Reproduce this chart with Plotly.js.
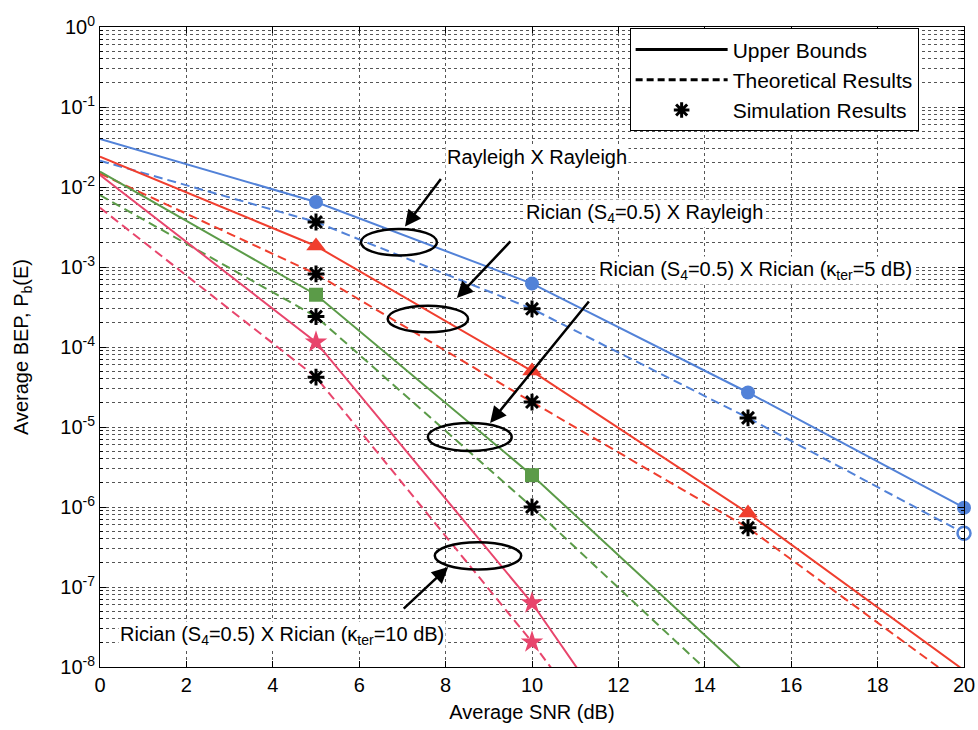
<!DOCTYPE html>
<html>
<head>
<meta charset="utf-8">
<script src="https://cdn.plot.ly/plotly-3.0.1.min.js"></script>
<style>
  html, body { margin: 0; padding: 0; background: #ffffff; }
  #chart { width: 978px; height: 730px; }
</style>
</head>
<body>
<div id="chart"></div>
<script>
// Average SNR grid (dB)
const snr = [0, 5, 10, 15, 20];

// Rayleigh X Rayleigh
const rayRayUpper  = [0.040, 6.5e-3, 6.2e-4, 2.7e-5, 9.8e-7];
const rayRayTheory = [0.0213, 3.65e-3, 3.0e-4, 1.3e-5, 4.7e-7];
const rayRaySimSnr = [5, 10, 15];
const rayRaySim    = [3.65e-3, 3.0e-4, 1.3e-5];

// Rician (S4=0.5) X Rayleigh
const ricRayUpper  = [0.024, 1.83e-3, 5.0e-5, 8.4e-7, 9.1e-9];
const ricRayTheory = [0.0147, 8.2e-4, 2.05e-5, 5.5e-7, 5.8e-9];
const ricRaySimSnr = [5, 10, 15];
const ricRaySim    = [8.2e-4, 2.05e-5, 5.5e-7];

// Rician (S4=0.5) X Rician (kappa_ter = 5 dB)
const ric5Upper  = [0.0156, 4.5e-4, 2.5e-6, 7.9e-9];
const ric5Theory = [7.9e-3, 2.4e-4, 1.0e-6, 3.0e-9];
const ric5Snr    = [0, 5, 10, 15];
const ric5SimSnr = [5, 10];
const ric5Sim    = [2.4e-4, 1.0e-6];

// Rician (S4=0.5) X Rician (kappa_ter = 10 dB)
const ric10Upper  = [0.0141, 1.15e-4, 6.3e-8, 8e-12];
const ric10Theory = [5.5e-3, 4.2e-5, 2.05e-8, 4.7e-12];
const ric10Snr    = [0, 5, 10, 15];
const ric10SimSnr = [5];
const ric10Sim    = [4.2e-5];

// axis ticks
const xTicks = [0, 2, 4, 6, 8, 10, 12, 14, 16, 18, 20];
const yTickVals = [1, 1e-1, 1e-2, 1e-3, 1e-4, 1e-5, 1e-6, 1e-7, 1e-8];
const yTickText = ['10<sup>0</sup>', '10<sup>-1</sup>', '10<sup>-2</sup>', '10<sup>-3</sup>',
                   '10<sup>-4</sup>', '10<sup>-5</sup>', '10<sup>-6</sup>', '10<sup>-7</sup>', '10<sup>-8</sup>'];

const BLUE = '#5282d8', RED = '#f03e2e', GREEN = '#5b9b48', PINK = '#e8456c';
const FONT = 'Liberation Sans, Arial, sans-serif';
const DASH = '9px,5px';
const Y_DECADES = 8;   // y axis spans 1e-8 .. 1e0

// minor log grid: 2..9 in each decade
const minorVals = [];
for (let e = -Y_DECADES; e < 0; e++) {
  for (let m = 2; m <= 9; m++) minorVals.push(m * Math.pow(10, e));
}

function lineTrace(x, y, color, dashed) {
  return { x: x, y: y, mode: 'lines', showlegend: false, hoverinfo: 'skip',
           line: { color: color, width: 2, dash: dashed ? DASH : 'solid' } };
}
// markers on the upper-bound curves, skipping the 0 dB start point
function markerTrace(x, y, color, symbol, size) {
  const xs = [], ys = [];
  for (let i = 0; i < x.length; i++) {
    if (x[i] > 0 && y[i] >= 1e-8) { xs.push(x[i]); ys.push(y[i]); }
  }
  return { x: xs, y: ys, mode: 'markers', showlegend: false, hoverinfo: 'skip', cliponaxis: false,
           marker: { symbol: symbol, size: size, color: color, line: { width: 0 } } };
}
function simTrace(x, y) {
  return { x: x, y: y, mode: 'markers', showlegend: false, hoverinfo: 'skip', cliponaxis: false,
           marker: { symbol: 'asterisk-open', size: 14, color: 'black',
                     line: { color: 'black', width: 3 } } };
}

const traces = [
  lineTrace(snr, rayRayUpper, BLUE, false),
  lineTrace(snr, rayRayTheory, BLUE, true),
  lineTrace(snr, ricRayUpper, RED, false),
  lineTrace(snr, ricRayTheory, RED, true),
  lineTrace(ric5Snr, ric5Upper, GREEN, false),
  lineTrace(ric5Snr, ric5Theory, GREEN, true),
  lineTrace(ric10Snr, ric10Upper, PINK, false),
  lineTrace(ric10Snr, ric10Theory, PINK, true),

  markerTrace(snr, rayRayUpper, BLUE, 'circle', 14),
  markerTrace(snr, ricRayUpper, RED, 'triangle-up', 17),
  markerTrace(ric5Snr, ric5Upper, GREEN, 'square', 14),
  markerTrace(ric10Snr, ric10Upper, PINK, 'star', 17),

  // theoretical end point at 20 dB (Rayleigh X Rayleigh)
  { x: snr.slice(4), y: rayRayTheory.slice(4), mode: 'markers', showlegend: false, hoverinfo: 'skip',
    cliponaxis: false,
    marker: { symbol: 'circle', size: 13, color: 'white', line: { color: BLUE, width: 2.5 } } },
  // theoretical point at 10 dB (kappa_ter = 10 dB)
  { x: ric10Snr.slice(2, 3), y: ric10Theory.slice(2, 3), mode: 'markers', showlegend: false, hoverinfo: 'skip',
    cliponaxis: false,
    marker: { symbol: 'star', size: 17, color: PINK, line: { width: 0 } } },

  simTrace(rayRaySimSnr, rayRaySim),
  simTrace(ricRaySimSnr, ricRaySim),
  simTrace(ric5SimSnr, ric5Sim),
  simTrace(ric10SimSnr, ric10Sim),

  // legend entries
  { x: [null], y: [null], mode: 'lines', name: 'Upper Bounds',
    line: { color: 'black', width: 3 } },
  { x: [null], y: [null], mode: 'lines', name: 'Theoretical Results',
    line: { color: 'black', width: 3, dash: '7px,4px' } },
  { x: [null], y: [null], mode: 'markers', name: 'Simulation Results',
    marker: { symbol: 'asterisk-open', size: 13, color: 'black', line: { color: 'black', width: 3 } } }
];

const L10 = Math.log10;
// fraction of the plot height for a BEP value
const yFrac = v => (Y_DECADES + L10(v)) / Y_DECADES;

// ellipses grouping each pair of curves (ry in decades)
function ellipse(xc, yc, rx, ry) {
  return { type: 'circle', xref: 'x', yref: 'paper',
           x0: xc - rx, x1: xc + rx,
           y0: yFrac(yc) - ry / Y_DECADES, y1: yFrac(yc) + ry / Y_DECADES,
           line: { color: 'black', width: 2.5 } };
}
const shapes = [
  ellipse(6.92, 2.04e-3, 0.88, 0.165),
  ellipse(7.59, 2.24e-4, 0.93, 0.165),
  ellipse(8.56, 7.5e-6, 0.97, 0.175),
  ellipse(8.75, 2.45e-7, 1.0, 0.17)
];

function arrow(x, y, ax, ay) {
  return { xref: 'x', yref: 'y', x: x, y: L10(y), ax: ax, ay: ay, text: '',
           showarrow: true, arrowhead: 2, arrowsize: 1.3, arrowwidth: 2.5, arrowcolor: 'black' };
}
function label(x, y, text) {
  return { xref: 'x', yref: 'y', x: x, y: L10(y), text: text, showarrow: false,
           xanchor: 'left', yanchor: 'middle', bgcolor: 'white', borderpad: 1,
           font: { family: FONT, size: 20, color: 'black' } };
}
const annotations = [
  arrow(7.06, 3.2e-3, 37, -49),
  arrow(8.26, 4.1e-4, 55, -58),
  arrow(9.03, 1.12e-5, 100, -123),
  arrow(8.06, 1.78e-7, -46, 43),
  label(7.99, 2.37e-2, 'Rayleigh X Rayleigh'),
  label(9.81, 4.7e-3, 'Rician (S<sub>4</sub>=0.5) X Rayleigh'),
  label(11.5, 9.1e-4, 'Rician (S<sub>4</sub>=0.5) X Rician (\u03ba<sub>ter</sub>=5 dB)'),
  label(0.42, 2.45e-8, 'Rician (S<sub>4</sub>=0.5) X Rician (\u03ba<sub>ter</sub>=10 dB)')
];

const gridStyle = { gridcolor: '#555555', gridwidth: 1, griddash: '3px,3px' };

const layout = {
  width: 978, height: 730,
  margin: { l: 100, r: 14, t: 27, b: 63 },
  paper_bgcolor: 'white', plot_bgcolor: 'white',
  font: { family: FONT, size: 20, color: 'black' },
  showlegend: true,
  legend: {
    x: 0.613, y: 0.998, xanchor: 'left', yanchor: 'top',
    bgcolor: 'white', bordercolor: 'black', borderwidth: 1,
    font: { family: FONT, size: 21, color: 'black' },
    itemwidth: 92, tracegroupgap: 0
  },
  xaxis: Object.assign({
    range: [0, 20], tickmode: 'array', tickvals: xTicks,
    showgrid: true, zeroline: false,
    showline: true, linecolor: 'black', linewidth: 1, mirror: 'ticks',
    ticks: 'inside', ticklen: 6, tickcolor: 'black',
    tickfont: { family: FONT, size: 20, color: 'black' },
    title: { text: 'Average SNR (dB)', font: { family: FONT, size: 20, color: 'black' }, standoff: 9 }
  }, gridStyle),
  yaxis: Object.assign({
    type: 'log', range: [-Y_DECADES, 0], tickmode: 'array', tickvals: yTickVals, ticktext: yTickText,
    showgrid: true, zeroline: false,
    showline: true, linecolor: 'black', linewidth: 1, mirror: 'ticks',
    ticks: 'inside', ticklen: 6, tickcolor: 'black',
    tickfont: { family: FONT, size: 20, color: 'black' },
    minor: Object.assign({ tickmode: 'array', tickvals: minorVals, showgrid: true,
                           ticks: 'inside', ticklen: 3, tickcolor: 'black' }, gridStyle),
    title: { text: 'Average BEP, P<sub>b</sub>(E)', font: { family: FONT, size: 20, color: 'black' }, standoff: 26 }
  }, gridStyle),
  shapes: shapes,
  annotations: annotations
};

Plotly.newPlot('chart', traces, layout, { staticPlot: true, displayModeBar: false });
</script>
</body>
</html>
